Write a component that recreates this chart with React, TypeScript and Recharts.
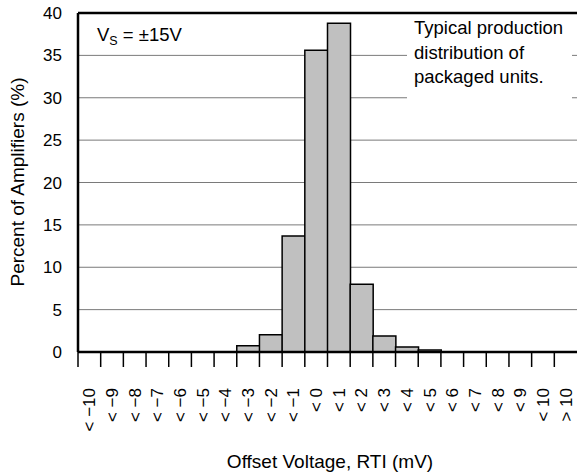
import React from 'react';
import { BarChart, Bar, XAxis, YAxis, CartesianGrid, ReferenceLine } from 'recharts';

const categories = [
  '< −10', '< −9', '< −8', '< −7', '< −6', '< −5', '< −4', '< −3', '< −2', '< −1', '< 0',
  '< 1', '< 2', '< 3', '< 4', '< 5', '< 6', '< 7', '< 8', '< 9', '< 10', '> 10',
];
const percents = [0, 0, 0, 0, 0, 0, 0, 0.75, 2.05, 13.7, 35.6, 38.8, 8.0, 1.9, 0.6, 0.25, 0, 0, 0, 0, 0, 0];
const yTicks = [0, 5, 10, 15, 20, 25, 30, 35, 40];

const data = categories.map((bin, i) => ({ bin, pct: percents[i] }));

const W = 577;
const H = 473;
const LEFT = 78;
const RIGHT = 0;
const TOP = 13;
const XAXIS_H = 121;
const band = (W - LEFT - RIGHT) / categories.length;
const font = '"Liberation Sans", Arial, sans-serif';

// tick mark sits on the band's left edge, label is centred in the band
const BinTick = (props: any) => {
  const { x, y, payload } = props;
  return (
    <g>
      <line x1={x - band / 2} y1={y} x2={x - band / 2} y2={y + 15} stroke="#000" strokeWidth={1.5} />
      <text
        x={0}
        y={0}
        transform={`translate(${x},${y + 36}) rotate(-90)`}
        textAnchor="end"
        dy="0.35em"
        fontSize={17}
        fontFamily={font}
        fill="#000"
      >
        {payload.value}
      </text>
    </g>
  );
};

export default function App() {
  return (
    <div style={{ position: 'absolute', left: 0, top: 0, width: W, height: H, background: '#fff', fontFamily: font }}>
      <BarChart
        width={W}
        height={H}
        data={data}
        margin={{ top: TOP, right: RIGHT, bottom: 0, left: 0 }}
        barCategoryGap={0}
      >
        <CartesianGrid vertical={false} stroke="#7a7a7a" strokeWidth={1} />
        <XAxis
          dataKey="bin"
          interval={0}
          height={XAXIS_H}
          tickLine={false}
          tickSize={0}
          tickMargin={0}
          tick={<BinTick />}
          axisLine={{ stroke: '#000', strokeWidth: 2.5 }}
        />
        <YAxis
          domain={[0, 40]}
          ticks={yTicks}
          width={LEFT}
          tickLine={false}
          tickSize={0}
          tickMargin={16}
          axisLine={{ stroke: '#000', strokeWidth: 2.5 }}
          tick={{ fill: '#000', fontSize: 17, fontFamily: font }}
        />
        <ReferenceLine y={40} stroke="#000" strokeWidth={2.5} />
        <Bar dataKey="pct" fill="#c0c0c0" stroke="#000" strokeWidth={1.5} isAnimationActive={false} />
      </BarChart>

      <div
        style={{
          position: 'absolute',
          left: 18,
          top: 182,
          transform: 'translate(-50%, -50%) rotate(-90deg)',
          whiteSpace: 'nowrap',
          fontSize: 19,
        }}
      >
        Percent of Amplifiers (%)
      </div>
      <div
        style={{
          position: 'absolute',
          left: 330,
          top: 462,
          transform: 'translate(-50%, -50%)',
          whiteSpace: 'nowrap',
          fontSize: 19,
        }}
      >
        Offset Voltage, RTI (mV)
      </div>

      <div style={{ position: 'absolute', left: 97, top: 24, fontSize: 18.5, whiteSpace: 'nowrap' }}>
        V<sub style={{ fontSize: 12.5, verticalAlign: '-4px' }}>S</sub> = ±15V
      </div>
      <div
        style={{
          position: 'absolute',
          left: 407,
          top: 15,
          width: 165,
          height: 88,
          background: '#fff',
          boxSizing: 'border-box',
          paddingLeft: 7,
          paddingTop: 1,
          fontSize: 18.5,
          lineHeight: '24.5px',
          whiteSpace: 'nowrap',
        }}
      >
        Typical production
        <br />
        distribution of
        <br />
        packaged units.
      </div>
    </div>
  );
}
